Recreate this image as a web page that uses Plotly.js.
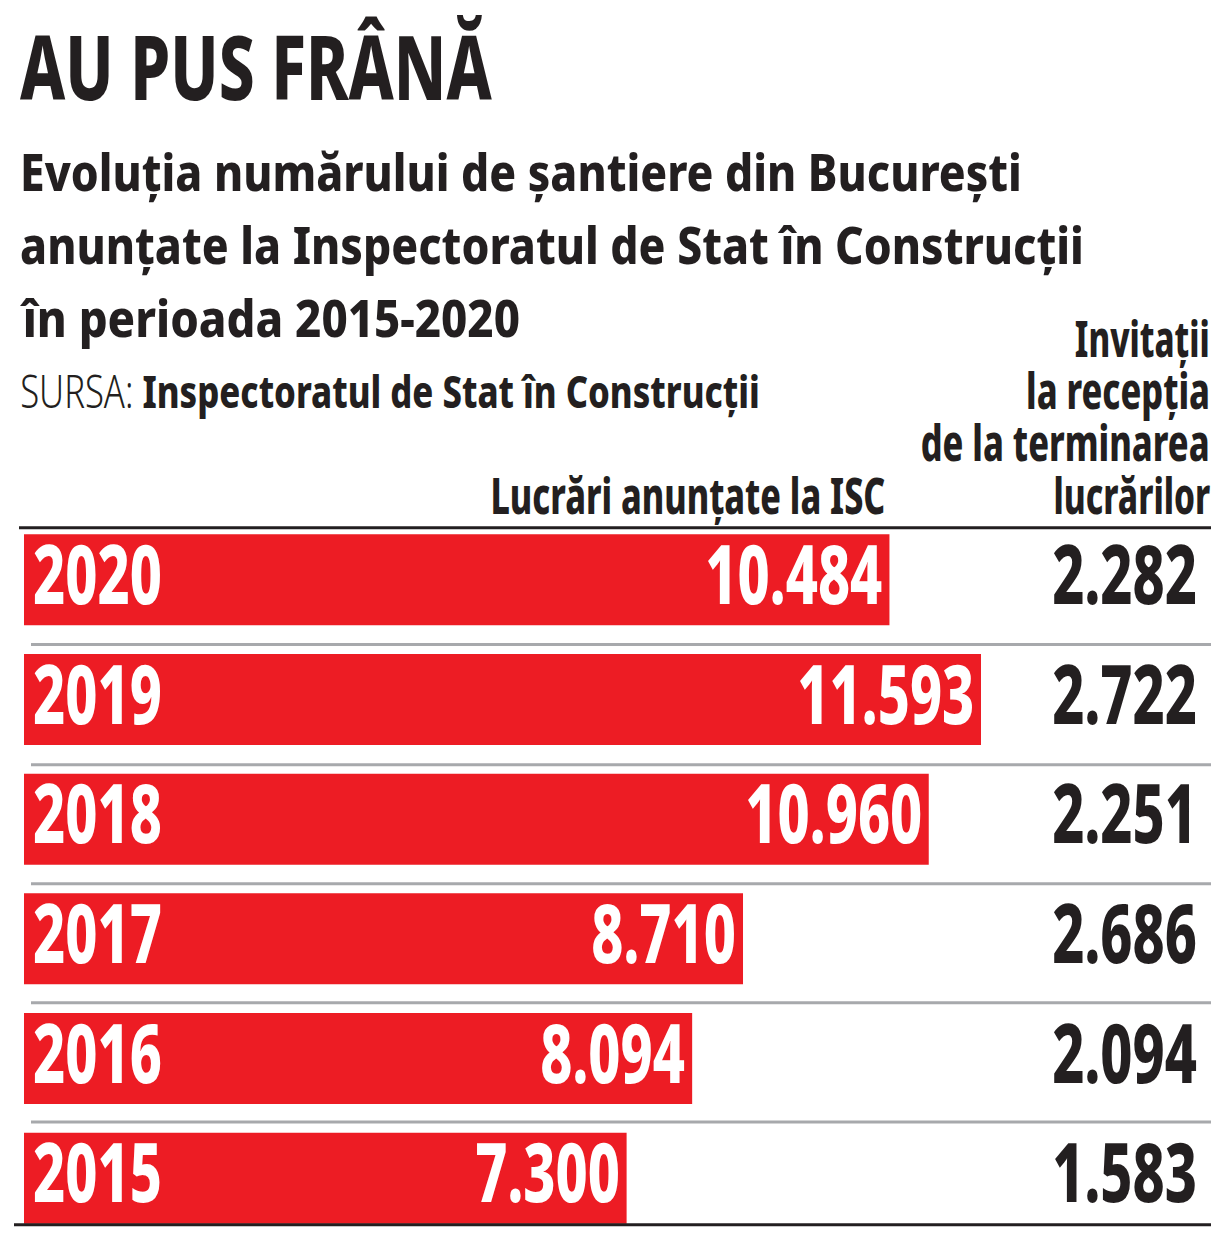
<!DOCTYPE html>
<html>
<head>
<meta charset="utf-8">
<script src="https://cdn.plot.ly/plotly-3.0.1.min.js"></script>
<style>
  html, body { margin: 0; padding: 0; background: #fff; }
  #chart { width: 1221px; height: 1246px; }
</style>
</head>
<body>
<div id="chart"></div>
<script>
// data
const years = ['2015', '2016', '2017', '2018', '2019', '2020'];
const announced = [7300, 8094, 8710, 10960, 11593, 10484];
const invitations = [1583, 2094, 2686, 2251, 2722, 2282];

const W = 1221, H = 1246;
const M = {l: 24, r: 11, t: 520, b: 8};
const plotH = H - M.t - M.b;
const FONT = '"Noto Sans", "Liberation Sans", sans-serif';
const INK = '#231f20';
const RED = '#ed1c24';
const HEAVY = 800;
const NUM_SIZE = 82;
const NUM_SQUEEZE = 0.68;   // no condensed face installed, so squeeze horizontally

// pixel position -> paper coords
const py = p => (H - M.b - p) / plotH;
const px = p => (p - M.l) / (W - M.l - M.r);

const fmt = v => String(v).replace(/\B(?=(\d{3})+(?!\d))/g, '.');

const trace = {
  type: 'bar',
  orientation: 'h',
  y: years,
  x: announced,
  marker: {color: RED},
  hoverinfo: 'none'
};

const annotations = [];
const squeeze = [];   // per annotation: {fit: target width} or {k: factor}

// heading text placed by its baseline, squeezed to the width seen in the original
function note(text, x, base, size, anchor, width, weight) {
  annotations.push({
    text: text, xref: 'paper', yref: 'paper', x: px(x), y: py(base - 0.385 * size),
    xanchor: anchor, yanchor: 'middle', showarrow: false,
    font: {family: FONT, size: size, color: INK, weight: weight || HEAVY}
  });
  squeeze.push({fit: width, anchor: anchor});
}

note('AU PUS FRÂNĂ', 18, 100, 90, 'left', 472);
note('Evoluția numărului de șantiere din București', 18, 191, 52, 'left', 1002);
note('anunțate la Inspectoratul de Stat în Construcții', 18, 264, 52, 'left', 1064);
note('în perioada 2015-2020', 18, 337, 52, 'left', 500);
note('SURSA: <span style="font-weight:800">Inspectoratul de Stat în Construcții</span>',
     18, 408, 45, 'left', 740, 300);
note('Lucrări anunțate la ISC', 887, 514, 50, 'right', 395);
note('Invitații', 1212, 357, 50, 'right', 135);
note('la recepția', 1212, 409, 50, 'right', 184);
note('de la terminarea', 1212, 461, 50, 'right', 289);
note('lucrărilor', 1212, 514, 50, 'right', 157);

// category axis: annotations use the category index
years.forEach((yr, i) => {
  annotations.push({
    text: yr, x: 0, y: i, xref: 'x', yref: 'y',
    xanchor: 'left', yanchor: 'middle', xshift: 7, yshift: 8, showarrow: false,
    font: {family: FONT, size: NUM_SIZE, color: '#fff', weight: HEAVY}
  });
  squeeze.push({k: NUM_SQUEEZE, anchor: 'left'});
  annotations.push({
    text: fmt(announced[i]), x: announced[i], y: i, xref: 'x', yref: 'y',
    xanchor: 'right', yanchor: 'middle', xshift: -5, yshift: 8, showarrow: false,
    font: {family: FONT, size: NUM_SIZE, color: '#fff', weight: HEAVY}
  });
  squeeze.push({k: NUM_SQUEEZE, anchor: 'right'});
  annotations.push({
    text: fmt(invitations[i]), x: 1, y: i, xref: 'paper', yref: 'y',
    xanchor: 'right', yanchor: 'middle', xshift: -11, yshift: 8, showarrow: false,
    font: {family: FONT, size: NUM_SIZE, color: INK, weight: HEAVY}
  });
  squeeze.push({k: NUM_SQUEEZE, anchor: 'right'});
});

// rules between rows
const shapes = [];
const hline = (y, x0, color, w) => shapes.push({
  type: 'line', xref: 'paper', yref: 'y', x0: px(x0), x1: px(1211), y0: y, y1: y,
  line: {color: color, width: w}, layer: 'above'
});
hline(5.435, 19, INK, 3);
[4.46, 3.455, 2.46, 1.465, 0.47].forEach(y => hline(y, 31, '#a7a9ac', 3));
hline(-0.39, 14, INK, 3);

const xMax = 11593 * (W - M.l - M.r) / (981 - M.l);

const layout = {
  width: W, height: H,
  margin: M,
  paper_bgcolor: '#fff', plot_bgcolor: '#fff',
  showlegend: false,
  bargap: 0.24,
  xaxis: {range: [0, xMax], visible: false, fixedrange: true},
  yaxis: {type: 'category', categoryorder: 'array', categoryarray: years,
          range: [-0.5, 5.5], visible: false, fixedrange: true},
  annotations: annotations,
  shapes: shapes
};

Plotly.newPlot('chart', [trace], layout, {displayModeBar: false, staticPlot: true}).then(gd => {
  // fake a condensed face: scale each text horizontally about its anchored edge
  gd.querySelectorAll('g.annotation').forEach(g => {
    const s = squeeze[+g.getAttribute('data-index')];
    const t = g.querySelector('text.annotation-text');
    if (!s || !t) return;
    const bb = t.getBBox();
    const k = s.fit ? s.fit / bb.width : s.k;
    const ox = s.anchor === 'left' ? bb.x : bb.x + bb.width;
    const prev = t.getAttribute('transform') || '';
    t.setAttribute('transform', prev + ` translate(${ox},0) scale(${k},1) translate(${-ox},0)`);
  });
});
</script>
</body>
</html>
